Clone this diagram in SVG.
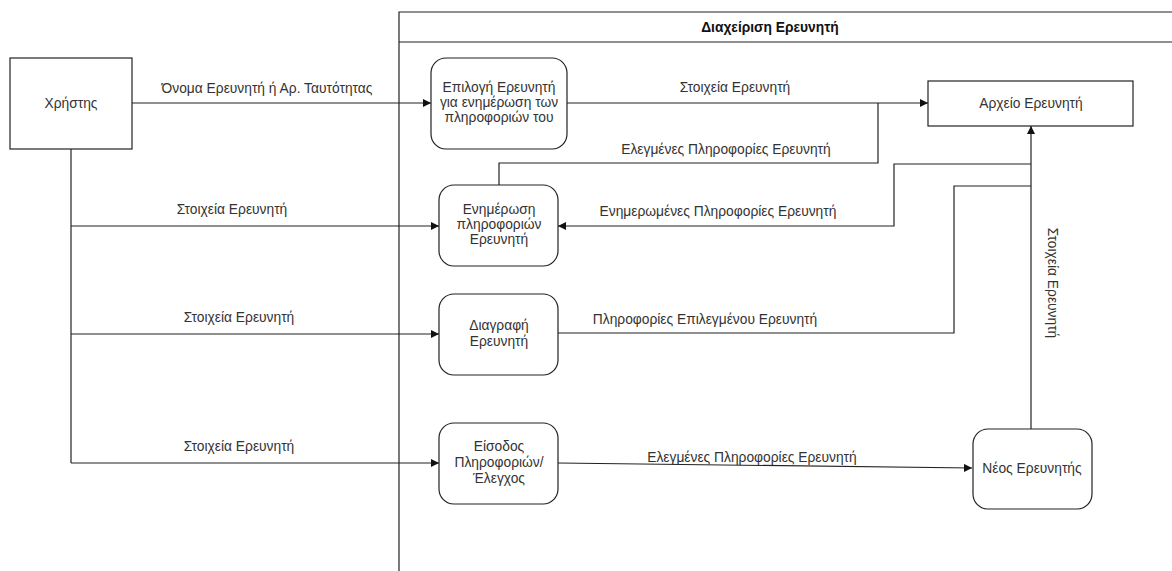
<svg xmlns="http://www.w3.org/2000/svg" width="1172" height="571" viewBox="0 0 1172 571">
  <style>
    .box { fill: #ffffff; stroke: #222; stroke-width: 1.2; }
    .line { fill: none; stroke: #222; stroke-width: 1.2; }
    .txt { font-family: "Liberation Sans", Arial, sans-serif; font-size: 13.8px; fill: #333; text-anchor: middle; }
    .title { font-family: "Liberation Sans", Arial, sans-serif; font-size: 13.8px; font-weight: bold; fill: #111; text-anchor: middle; }
  </style>
  <defs>
    <marker id="arrow" viewBox="0 0 10 10" refX="10" refY="5" markerWidth="8" markerHeight="8" markerUnits="userSpaceOnUse" orient="auto">
      <path d="M0,0 L10,5 L0,10 Z" fill="#111"/>
    </marker>
  </defs>
  <rect width="1172" height="571" fill="#ffffff"/>

  <!-- pool: Διαχείριση Ερευνητή -->
  <g id="pool">
    <path class="line" d="M1175,12 L399,12 L399,575"/>
    <line class="line" x1="399" y1="42" x2="1175" y2="42"/>
    <text class="title" x="770" y="32">Διαχείριση Ερευνητή</text>
  </g>

  <!-- connectors -->
  <g id="connectors">
    <!-- Χρήστης -> Επιλογή -->
    <line class="line" x1="132" y1="103" x2="431" y2="103" marker-end="url(#arrow)"/>
    <text class="txt" x="267" y="93">Όνομα Ερευνητή ή Αρ. Ταυτότητας</text>

    <!-- Χρήστης vertical trunk -->
    <line class="line" x1="71" y1="149" x2="71" y2="463"/>
    <line class="line" x1="71" y1="226" x2="439" y2="226" marker-end="url(#arrow)"/>
    <text class="txt" x="232" y="214">Στοιχεία Ερευνητή</text>
    <line class="line" x1="71" y1="334" x2="439" y2="334" marker-end="url(#arrow)"/>
    <text class="txt" x="239" y="322">Στοιχεία Ερευνητή</text>
    <line class="line" x1="71" y1="463" x2="439" y2="463" marker-end="url(#arrow)"/>
    <text class="txt" x="239" y="451">Στοιχεία Ερευνητή</text>

    <!-- Επιλογή -> Αρχείο -->
    <line class="line" x1="567" y1="103" x2="928" y2="103" marker-end="url(#arrow)"/>
    <text class="txt" x="735" y="92">Στοιχεία Ερευνητή</text>

    <!-- Ενημέρωση -> join -->
    <path class="line" d="M499,185 L499,163 L878,163 L878,103"/>
    <text class="txt" x="726" y="154">Ελεγμένες Πληροφορίες Ερευνητή</text>

    <!-- trunk up to Αρχείο -->
    <line class="line" x1="1031" y1="429" x2="1031" y2="126" marker-end="url(#arrow)"/>

    <!-- Αρχείο -> Ενημέρωση -->
    <path class="line" d="M1031,164 L894,164 L894,226 L558,226" marker-end="url(#arrow)"/>
    <text class="txt" x="718" y="216">Ενημερωμένες Πληροφορίες Ερευνητή</text>

    <!-- Διαγραφή -> trunk -->
    <path class="line" d="M558,333 L954,333 L954,186 L1031,186"/>
    <text class="txt" x="705" y="324">Πληροφορίες Επιλεγμένου Ερευνητή</text>

    <!-- Είσοδος -> Νέος -->
    <line class="line" x1="558" y1="463" x2="972" y2="468" marker-end="url(#arrow)"/>
    <text class="txt" x="752" y="462">Ελεγμένες Πληροφορίες Ερευνητή</text>

    <!-- vertical label on trunk -->
    <text class="txt" transform="translate(1048,283) rotate(90)">Στοιχεία Ερευνητή</text>
  </g>

  <g id="xristis">
    <rect class="box" x="10" y="58" width="122" height="91"/>
    <text class="txt" x="71" y="108">Χρήστης</text>
  </g>

  <g id="epilogi">
    <rect class="box" x="431" y="58" width="136" height="91" rx="15"/>
    <text class="txt" x="499" y="92">Επιλογή Ερευνητή</text>
    <text class="txt" x="499" y="107">για ενημέρωση των</text>
    <text class="txt" x="499" y="122">πληροφοριών του</text>
  </g>

  <g id="arxeio">
    <rect class="box" x="928" y="81" width="205" height="45"/>
    <text class="txt" x="1031" y="108">Αρχείο Ερευνητή</text>
  </g>

  <g id="enimerosi">
    <rect class="box" x="439" y="185" width="119" height="81" rx="15"/>
    <text class="txt" x="499" y="214">Ενημέρωση</text>
    <text class="txt" x="499" y="229">πληροφοριών</text>
    <text class="txt" x="499" y="244">Ερευνητή</text>
  </g>

  <g id="diagrafi">
    <rect class="box" x="439" y="294" width="119" height="81" rx="15"/>
    <text class="txt" x="499" y="330">Διαγραφή</text>
    <text class="txt" x="499" y="346">Ερευνητή</text>
  </g>

  <g id="eisodos">
    <rect class="box" x="439" y="423" width="119" height="81" rx="15"/>
    <text class="txt" x="499" y="451">Είσοδος</text>
    <text class="txt" x="499" y="467">Πληροφοριών/</text>
    <text class="txt" x="499" y="483">Έλεγχος</text>
  </g>

  <g id="neos">
    <rect class="box" x="973" y="429" width="119" height="80" rx="15"/>
    <text class="txt" x="1032" y="473">Νέος Ερευνητής</text>
  </g>
</svg>
